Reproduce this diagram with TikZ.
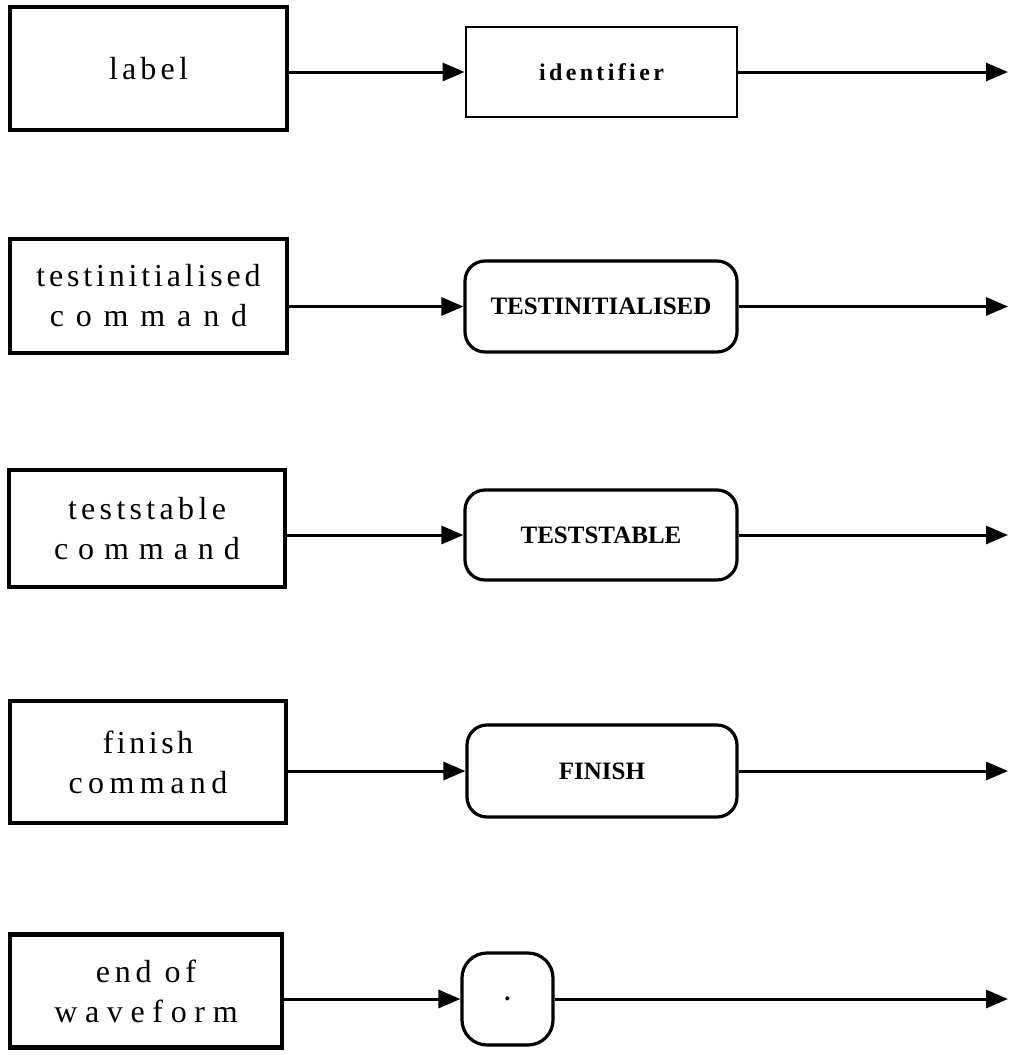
\documentclass[tikz,border=0pt]{standalone}
\usepackage{fontspec}
\setmainfont{Liberation Serif}
\usetikzlibrary{arrows.meta}
\newcommand{\lsp}[2]{{\addfontfeature{LetterSpace=#1}#2}}
\tikzset{
  lbox/.style={draw, line width=4.5pt, align=center, inner sep=0pt,
    font={\fontsize{32}{40}\selectfont}},
  ibox/.style={draw, line width=2.8pt, inner sep=0pt,
    font={\fontsize{24}{28}\selectfont\bfseries}},
  rbox/.style={draw, line width=3.2pt, rounded corners=20pt, inner sep=0pt,
    font={\fontsize{25}{30}\selectfont\bfseries}},
  arr/.style={line width=3pt, -{Triangle[length=22pt,width=18pt]}}
}
\begin{document}
\begin{tikzpicture}[x=1pt,y=-1pt]
\useasboundingbox (0,0) rectangle (1010,1055);
% row 1
\node[lbox, minimum width=277pt, minimum height=123pt] (L1) at (148.5,68.5) {\lsp{13}{label}};
\node[ibox, minimum width=271pt, minimum height=90pt] (R1) at (601.5,72) {\lsp{14}{identifier}};
\coordinate (E1) at (1008,72);
% row 2
\node[lbox, minimum width=277pt, minimum height=114pt] (L2) at (148.5,296) {\lsp{12}{testinitialised}\\\lsp{37}{command}};
\node[rbox, minimum width=272pt, minimum height=91pt] (R2) at (601,306.5) {TESTINITIALISED};
\coordinate (E2) at (1008,306.5);
% row 3
\node[lbox, minimum width=276pt, minimum height=117pt] (L3) at (147,528.5) {\lsp{13.5}{teststable}\\\lsp{31}{command}};
\node[rbox, minimum width=272pt, minimum height=90pt] (R3) at (601,535) {TESTSTABLE};
\coordinate (E3) at (1008,535);
% row 4
\node[lbox, minimum width=276pt, minimum height=122pt] (L4) at (148,762) {\lsp{11}{finish}\\\lsp{17}{command}};
\node[rbox, minimum width=270pt, minimum height=92pt] (R4) at (602,771) {FINISH};
\coordinate (E4) at (1008,771);
% row 5
\node[lbox, minimum width=272pt, minimum height=113pt] (L5) at (146,991) {\lsp{15}{end of}\\\lsp{24}{waveform}};
\node[rbox, rounded corners=25pt, minimum width=91pt, minimum height=92pt] (R5) at (507.5,999) {.};
\coordinate (E5) at (1008,999);
% connectors
\foreach \i in {1,...,5}{
  \draw[arr] (L\i.east |- R\i.west) -- (R\i.west);
  \draw[arr] (R\i.east) -- (E\i);
}
\end{tikzpicture}
\end{document}
